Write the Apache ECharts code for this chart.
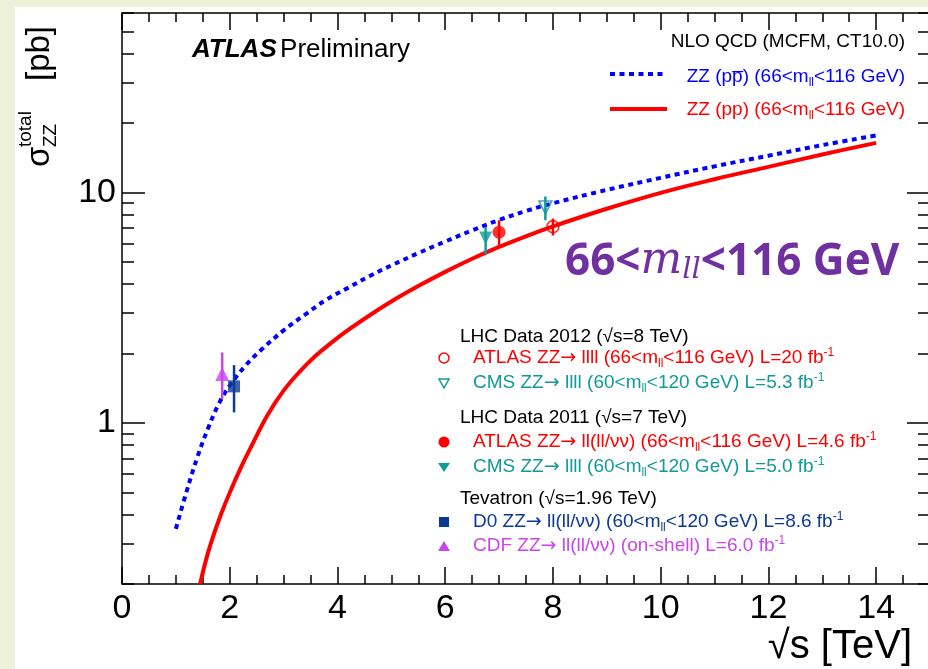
<!DOCTYPE html>
<html>
<head>
<meta charset="utf-8">
<script src="https://cdn.jsdelivr.net/npm/echarts@6/dist/echarts.min.js"></script>
<style>
html,body{margin:0;padding:0;background:#edf1d9;}
#main{width:928px;height:669px;}
</style>
</head>
<body>
<div id="main"></div>
<script>
// NLO theory curves (sqrt(s) in TeV, sigma in pb)
var ppbarX = [1.0, 1.2, 1.4, 1.6, 1.8, 2.0, 2.3, 2.6, 3.0, 3.4, 3.8, 4.2, 4.6, 5.0, 5.5, 6.0, 6.5, 7.0, 7.5, 8, 9, 10, 11, 12, 13, 14];
var ppbarY = [0.347, 0.505, 0.711, 0.95, 1.213, 1.45, 1.78, 2.09, 2.52, 2.95, 3.43, 3.86, 4.34, 4.82, 5.45, 6.12, 6.84, 7.59, 8.3, 8.97, 10.25, 11.56, 12.97, 14.42, 16.03, 17.66];
var ppX = [1.45, 1.6, 1.8, 2.0, 2.2, 2.4, 2.7, 3.0, 3.3, 3.6, 3.9, 4.2, 4.6, 5.0, 5.5, 6.0, 6.5, 7.0, 7.5, 8, 9, 10, 11, 12, 13, 14];
var ppY = [0.2, 0.275, 0.38, 0.498, 0.635, 0.79, 1.08, 1.38, 1.67, 1.96, 2.24, 2.53, 2.93, 3.36, 3.92, 4.52, 5.15, 5.8, 6.45, 7.12, 8.49, 9.95, 11.4, 12.9, 14.6, 16.4];

// measurements: CDF, D0, CMS 7TeV, ATLAS 7TeV, CMS 8TeV, ATLAS 8TeV
var expName = ['CDF', 'D0', 'CMS7', 'ATLAS7', 'CMS8', 'ATLAS8'];
var expX  = [1.86, 2.08, 6.75, 7.0, 7.86, 8.0];
var expY  = [1.63, 1.44, 6.34, 6.72, 8.6, 7.1];
var expLo = [1.27, 1.11, 5.4, 5.85, 7.57, 6.5];
var expHi = [2.02, 1.78, 7.07, 7.57, 9.6, 7.7];

// axis ticks
var xMajor = [0, 2, 4, 6, 8, 10, 12, 14];
var yMajor = [1, 10];

var xMinor = [];
for (var i = 0.5; i <= 14.5; i += 0.5) { if (i % 2 != 0) xMinor.push(i); }
var yMinor = [];
[0.1, 1, 10].forEach(function(d){
  for (var k = 2; k <= 9; k++) {
    var v = d * k;
    if (v >= 0.2 && v <= 60) yMinor.push(Math.log10(v));
  }
});

var F = 'Liberation Sans, Arial, sans-serif';
var RED = '#ff0000', BLUE = '#0000ff', TEAL = '#129a9a', DBLUE = '#0b3a94', MAG = '#cc44ee';

// marker styles per measurement
var expStyle = [
  {symbol: 'triangle', size: 14, rot: 0, color: MAG, hollow: false},
  {symbol: 'rect', size: 12, rot: 0, color: DBLUE, hollow: false},
  {symbol: 'triangle', size: 13, rot: 180, color: TEAL, hollow: false},
  {symbol: 'circle', size: 13, rot: 0, color: RED, hollow: false},
  {symbol: 'triangle', size: 13, rot: 180, color: TEAL, hollow: true},
  {symbol: 'circle', size: 12, rot: 0, color: RED, hollow: true}
];

function lg(v){ return Math.log10(v); }

var ppbarData = ppbarX.map(function(x, i){ return [x, lg(ppbarY[i])]; });
var ppData = ppX.map(function(x, i){ return [x, lg(ppY[i])]; });
var errData = expX.map(function(x, i){ return [x, lg(expLo[i]), lg(expHi[i])]; });
var ptData = expX.map(function(x, i){
  var s = expStyle[i];
  return {
    value: [x, lg(expY[i])],
    name: expName[i],
    symbol: s.symbol,
    symbolSize: s.size,
    symbolRotate: s.rot,
    itemStyle: s.hollow ? {color: 'rgba(255,255,255,0)', borderColor: s.color, borderWidth: 1.6}
                        : {color: s.color}
  };
});

// rich text styles
function rs(c, size){
  size = size || 19;
  var sm = Math.round(size * 0.62);
  return {
    t: {fill: c, fontSize: size, fontFamily: F},
    a: {fill: c, fontSize: size, fontFamily: 'DejaVu Sans, sans-serif'},
    d: {fill: c, fontSize: sm, fontFamily: F, padding: [Math.round(size * 0.62), 0, 0, 0]},
    u: {fill: c, fontSize: sm, fontFamily: F, padding: [0, 0, Math.round(size * 0.6), 0]}
  };
}
function txt(x, y, text, c, align, size){
  return {
    type: 'text', x: x, y: y, z: 100,
    style: {text: text, rich: rs(c, size), align: align || 'left', verticalAlign: 'middle',
            textAlign: align || 'left', textVerticalAlign: 'middle'}
  };
}

function xAx(pos, ticks, len, label){
  return {
    type: 'value', min: 0, max: 15, position: pos,
    axisLine: {show: false, onZero: false},
    splitLine: {show: false},
    axisTick: {show: true, inside: true, length: len, customValues: ticks,
               lineStyle: {color: '#000', width: 1.5}},
    axisLabel: label ? {show: true, customValues: xMajor, fontSize: 34, fontFamily: F, color: '#000', margin: 8}
                     : {show: false}
  };
}
function yAx(pos, ticks, len, label){
  return {
    type: 'value', min: lg(0.2), max: lg(60), position: pos,
    axisLine: {show: false, onZero: false},
    splitLine: {show: false},
    axisTick: {show: true, inside: true, length: len, customValues: ticks,
               lineStyle: {color: '#000', width: 1.5}},
    axisLabel: label ? {show: true, customValues: yMajor.map(lg), fontSize: 34, fontFamily: F, color: '#000', margin: 6,
                        formatter: function(v){ return String(Math.round(Math.pow(10, v))); }}
                     : {show: false}
  };
}

var chart = echarts.init(document.getElementById('main'));
var option = {
  animation: false,
  backgroundColor: 'transparent',
  grid: {left: 122, top: 13, right: -2, bottom: 85, show: true, borderColor: '#000', borderWidth: 1.5,
         backgroundColor: '#fff', containLabel: false, outerBoundsMode: 'none'},
  xAxis: [
    xAx('bottom', xMajor, 17, true),
    xAx('bottom', xMinor, 9, false),
    xAx('top', xMajor, 17, false),
    xAx('top', xMinor, 9, false)
  ],
  yAxis: [
    yAx('left', yMajor.map(lg), 23, true),
    yAx('left', yMinor, 12, false),
    yAx('right', yMajor.map(lg), 23, false),
    yAx('right', yMinor, 12, false)
  ],
  graphic: [
    {type: 'rect', shape: {x: 15, y: 7, width: 913, height: 662}, style: {fill: '#fff'}, z: -10, silent: true},
    // y axis title
    {type: 'group', x: 40, y: 95, rotation: Math.PI / 2, z: 100, children: [
      {type: 'text', x: -72, y: 0, style: {text: 'σ', fontSize: 33, fontFamily: F, fill: '#000', align: 'left', verticalAlign: 'middle'}},
      {type: 'text', x: -52, y: -14, style: {text: 'total', fontSize: 19, fontFamily: F, fill: '#000', align: 'left', verticalAlign: 'middle'}},
      {type: 'text', x: -52, y: 11, style: {text: 'ZZ', fontSize: 19, fontFamily: F, fill: '#000', align: 'left', verticalAlign: 'middle'}},
      {type: 'text', x: 14, y: 0, style: {text: '[pb]', fontSize: 33, fontFamily: F, fill: '#000', align: 'left', verticalAlign: 'middle'}}
    ]},
    // x axis title
    {type: 'text', x: 912, y: 647, z: 100,
     style: {text: '√s [TeV]', fontSize: 40, fontFamily: F, fill: '#000', align: 'right', verticalAlign: 'middle'}},
    // ATLAS label
    {type: 'text', x: 192, y: 50, z: 100,
     style: {text: '{b|ATLAS} {n|Preliminary}', align: 'left', verticalAlign: 'middle',
             rich: {b: {fontSize: 26, fontWeight: 'bold', fontStyle: 'italic', fontFamily: F, fill: '#000'},
                    n: {fontSize: 26, fontFamily: F, fill: '#000'}}}},
    // top legend
    txt(905, 42, '{t|NLO QCD (MCFM, CT10.0)}', '#000', 'right'),
    {type: 'polyline', z: 100, shape: {points: [[610, 74], [664, 74]]},
     style: {stroke: BLUE, lineWidth: 4, lineDash: [5, 4.5]}},
    txt(905, 77, '{t|ZZ (pp\u0305) (66<m}{d|ll}{t|<116 GeV)}', BLUE, 'right'),
    {type: 'polyline', z: 100, shape: {points: [[610, 109], [667, 109]]},
     style: {stroke: RED, lineWidth: 4}},
    txt(905, 110, '{t|ZZ (pp) (66<m}{d|ll}{t|<116 GeV)}', RED, 'right'),
    // big label
    {type: 'text', x: 565, y: 262, z: 100,
     style: {text: '{a|66<}{m|m}{s|ll}{a|<116 GeV}', align: 'left', verticalAlign: 'middle',
             rich: {a: {fontSize: 44, fontWeight: 'bold', fontFamily: 'Open Sans, sans-serif', fill: '#7030a0'},
                    m: {fontSize: 44, fontStyle: 'italic', fontFamily: 'DejaVu Serif, serif', fill: '#7030a0'},
                    s: {fontSize: 29, fontStyle: 'italic', fontFamily: 'DejaVu Serif, serif', fill: '#7030a0', padding: [17, 0, 0, 0]}}}},
    // lower legend
    txt(460, 337, '{t|LHC Data 2012 (√s=8 TeV)}', '#000'),
    {type: 'circle', z: 100, shape: {cx: 444, cy: 358, r: 5}, style: {fill: 'none', stroke: RED, lineWidth: 1.5}},
    txt(473, 358, '{t|ATLAS ZZ}{a|→}{t| llll (66<m}{d|ll}{t|<116 GeV) L=20 fb}{u|-1}', RED),
    {type: 'polygon', z: 100, shape: {points: [[439, 379], [449, 379], [444, 388]]}, style: {fill: 'none', stroke: TEAL, lineWidth: 1.5}},
    txt(473, 383, '{t|CMS ZZ}{a|→}{t| llll (60<m}{d|ll}{t|<120 GeV) L=5.3 fb}{u|-1}', TEAL),
    txt(460, 418, '{t|LHC Data 2011 (√s=7 TeV)}', '#000'),
    {type: 'circle', z: 100, shape: {cx: 444, cy: 442, r: 5.5}, style: {fill: RED}},
    txt(473, 442, '{t|ATLAS ZZ}{a|→}{t| ll(ll/νν) (66<m}{d|ll}{t|<116 GeV) L=4.6 fb}{u|-1}', RED),
    {type: 'polygon', z: 100, shape: {points: [[438, 463], [450, 463], [444, 472]]}, style: {fill: TEAL}},
    txt(473, 467, '{t|CMS ZZ}{a|→}{t| llll (60<m}{d|ll}{t|<120 GeV) L=5.0 fb}{u|-1}', TEAL),
    txt(460, 499, '{t|Tevatron (√s=1.96 TeV)}', '#000'),
    {type: 'rect', z: 100, shape: {x: 439, y: 517, width: 10, height: 10}, style: {fill: DBLUE}},
    txt(473, 522, '{t|D0 ZZ}{a|→}{t| ll(ll/νν) (60<m}{d|ll}{t|<120 GeV) L=8.6 fb}{u|-1}', DBLUE),
    {type: 'polygon', z: 100, shape: {points: [[438, 551], [450, 551], [444, 541]]}, style: {fill: MAG}},
    txt(473, 546, '{t|CDF ZZ}{a|→}{t| ll(ll/νν) (on-shell) L=6.0 fb}{u|-1}', MAG)
  ],
  series: [
    {type: 'line', name: 'ZZ (ppbar)', data: ppbarData, showSymbol: false, smooth: 0.4,
     lineStyle: {color: BLUE, width: 4, type: [5, 4.5]}, z: 3},
    {type: 'line', name: 'ZZ (pp)', data: ppData, showSymbol: false, smooth: 0.4,
     lineStyle: {color: RED, width: 4}, z: 3},
    {type: 'custom', name: 'errors', data: errData, z: 4,
     renderItem: function(params, api){
       var p1 = api.coord([api.value(0), api.value(1)]);
       var p2 = api.coord([api.value(0), api.value(2)]);
       return {type: 'line', shape: {x1: p1[0], y1: p1[1], x2: p2[0], y2: p2[1]},
               style: {stroke: expStyle[params.dataIndex].color, lineWidth: 2.5}};
     }},
    {type: 'scatter', name: 'data', data: ptData, z: 5}
  ]
};
chart.setOption(option);
</script>
</body>
</html>
